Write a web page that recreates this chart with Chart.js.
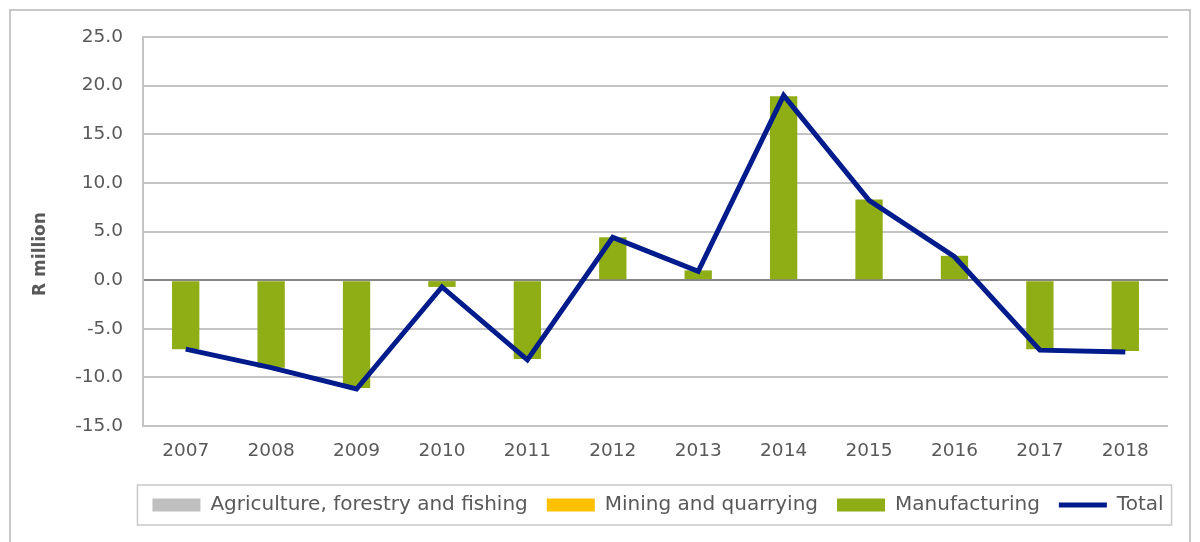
<!DOCTYPE html>
<html>
<head>
<meta charset="utf-8">
<script src="https://cdn.jsdelivr.net/npm/chart.js@4"></script>
<style>
  html, body { margin: 0; padding: 0; background: #fff; }
  #wrap { width: 1200px; height: 542px; position: relative; }
</style>
</head>
<body>
<div id="wrap"><canvas id="chart"></canvas></div>
<script>
const years = ['2007', '2008', '2009', '2010', '2011', '2012', '2013', '2014', '2015', '2016', '2017', '2018']
const agriculture = [0, 0, 0, 0, 0, 0, 0, 0, 0, 0, 0, 0]
const mining = [0, 0, 0, 0, 0, 0, 0, 0, 0, 0, 0, 0]
const manufacturing = [-7.1, -9.0, -11.1, -0.7, -8.1, 4.4, 1.0, 18.9, 8.3, 2.5, -7.1, -7.3]
const total = [-7.1, -9.0, -11.2, -0.7, -8.2, 4.4, 0.9, 19.0, 8.2, 2.4, -7.2, -7.4]
const axisTitle = 'R million'

const textColor = '#595959'
const fontFamily = "'DejaVu Sans', sans-serif"

// the legend in the original sits right of centre
const legendShift = 64

// frame round the whole chart and round the legend, plus the y axis title
const framePlugin = {
  id: 'frames',
  afterLayout(chart) {
    chart.legend.left += legendShift
    chart.legend.right += legendShift
  },
  afterDraw(chart) {
    let ctx = chart.ctx
    ctx.save()
    ctx.strokeStyle = '#c8c8c8'
    ctx.lineWidth = 2
    ctx.strokeRect(10, 10, 1180, 545)
    let boxes = chart.legend.legendHitBoxes
    if (boxes && boxes.length) {
      let left = Math.min(...boxes.map((b) => b.left)) - 15
      let right = Math.max(...boxes.map((b) => b.left + b.width)) + 8
      let top = Math.min(...boxes.map((b) => b.top)) - 10
      let bottom = Math.max(...boxes.map((b) => b.top + b.height)) + 10
      ctx.lineWidth = 1.5
      ctx.strokeRect(left, top, right - left, bottom - top)
    }
    // axis title sits a little below the middle of the plot, as in the original
    ctx.translate(41, 254)
    ctx.rotate(-Math.PI / 2)
    ctx.fillStyle = textColor
    ctx.font = 'bold 17px ' + fontFamily
    ctx.textAlign = 'center'
    ctx.textBaseline = 'middle'
    ctx.fillText(axisTitle, 0, 0)
    ctx.restore()
  },
}

let ctx = document.getElementById('chart').getContext('2d')
new Chart(ctx, {
  type: 'bar',
  data: {
    labels: years,
    datasets: [
      {
        label: 'Agriculture, forestry and fishing',
        data: agriculture,
        backgroundColor: '#bfbfbf',
        order: 1,
      },
      {
        label: 'Mining and quarrying',
        data: mining,
        backgroundColor: '#ffc000',
        order: 1,
      },
      {
        label: 'Manufacturing',
        data: manufacturing,
        backgroundColor: '#8fad15',
        order: 1,
      },
      {
        label: 'Total',
        type: 'line',
        data: total,
        borderColor: '#001b8c',
        backgroundColor: '#001b8c',
        borderWidth: 5,
        pointRadius: 0,
        tension: 0,
        order: 0,
      },
    ],
  },
  options: {
    responsive: true,
    maintainAspectRatio: false,
    animation: false,
    datasets: {
      bar: {
        categoryPercentage: 1,
        barPercentage: 0.32,
      },
    },
    layout: {
      padding: { left: 20, right: 32, top: 37, bottom: 17 },
    },
    plugins: {
      tooltip: { enabled: false },
      legend: {
        position: 'bottom',
        labels: {
          color: textColor,
          font: { family: fontFamily, size: 20 },
          usePointStyle: true,
          pointStyleWidth: 48,
          boxHeight: 13,
          padding: 19,
          sort: (a, b) => a.datasetIndex - b.datasetIndex,
          generateLabels(chart) {
            let base = Chart.defaults.plugins.legend.labels.generateLabels(chart)
            return base.map((item) => {
              let isLine = item.datasetIndex === 3
              return Object.assign(item, {
                pointStyle: isLine ? 'line' : 'rect',
                lineWidth: isLine ? 5 : 0,
                strokeStyle: isLine ? '#001b8c' : item.fillStyle,
              })
            })
          },
        },
      },
    },
    scales: {
      x: {
        stacked: true,
        grid: { display: false, drawTicks: false },
        border: { display: false },
        ticks: {
          color: textColor,
          font: { family: fontFamily, size: 18.5 },
          padding: 14,
        },
        afterFit(scale) {
          scale.height = 50
        },
      },
      y: {
        stacked: true,
        min: -15,
        max: 25,
        grid: {
          color: (c) => (c.tick && c.tick.value === 0 ? '#868686' : '#c4c4c4'),
          lineWidth: 2,
          drawTicks: false,
        },
        border: { color: '#c4c4c4', width: 2 },
        ticks: {
          stepSize: 5,
          color: textColor,
          font: { family: fontFamily, size: 18.5 },
          padding: 20,
          callback: (v) => v.toFixed(1),
        },
        afterFit(scale) {
          scale.width = 123
        },
      },
    },
  },
  plugins: [framePlugin],
})
</script>
</body>
</html>
